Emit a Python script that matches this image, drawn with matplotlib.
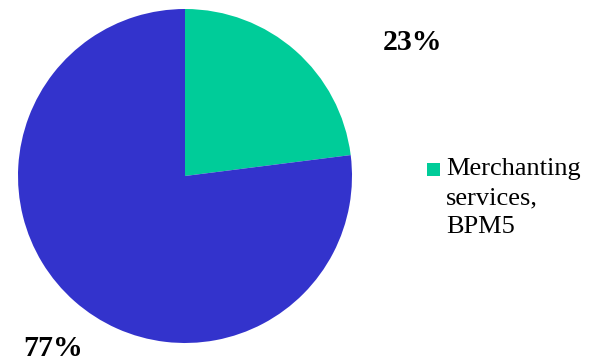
import matplotlib
matplotlib.use("Agg")
import matplotlib.pyplot as plt
from matplotlib.patches import Rectangle

# Share of merchanting services
categories = ["Merchanting services, BPM5", "Other"]
values = [23, 77]
pct_labels = ["23%", "77%"]
colors = ["#00CC99", "#3333CC"]

plt.rcParams["font.family"] = ["Liberation Serif", "DejaVu Serif"]

W, H = 589, 363
fig = plt.figure(figsize=(W / 100, H / 100), dpi=100)
ax = fig.add_axes([18 / W, 20 / H, 334 / W, 334 / H])

wedges, _ = ax.pie(values, colors=colors, startangle=90, counterclock=False,
                   radius=1.0, wedgeprops=dict(linewidth=0))
ax.set_xlim(-1, 1)
ax.set_ylim(-1, 1)
ax.set_aspect("equal")
ax.axis("off")

# Percentage labels outside the pie
label_pos = [(1.36, 0.80), (-0.79, -1.03)]
for (x, y), txt in zip(label_pos, pct_labels):
    ax.text(x, y, txt, ha="center", va="center", fontsize=21.5,
            fontweight="bold", color="black", clip_on=False)

# Legend: single entry for the merchanting slice
fig.patches.append(Rectangle((427 / W, 1 - 176 / H), 13 / W, 13 / H,
                             transform=fig.transFigure,
                             facecolor=wedges[0].get_facecolor(),
                             edgecolor="none"))
fig.text(446 / W, 1 - 158 / H, "Merchanting\nservices,\nBPM5",
         ha="left", va="top", fontsize=19, linespacing=1.42, color="black")

fig.savefig("out.png", dpi=100)
